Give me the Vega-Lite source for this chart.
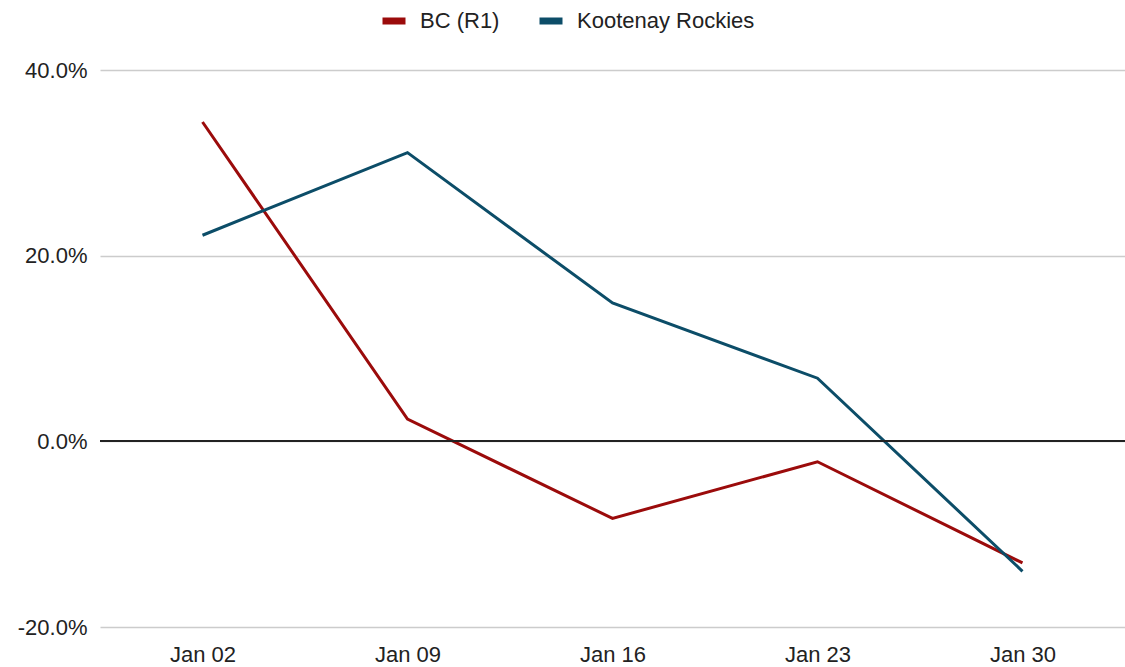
{
  "$schema": "https://vega.github.io/schema/vega-lite/v6.json",
  "width": 1025,
  "height": 557,
  "autosize": {"type": "none"},
  "padding": {"left": 100, "top": 70, "right": 0, "bottom": 40},
  "background": "white",
  "config": {
    "view": {"stroke": null},
    "font": "Liberation Sans",
    "axis": {
      "title": null,
      "domain": false,
      "ticks": false,
      "labelFontSize": 22,
      "labelColor": "#222222"
    },
    "axisX": {"grid": false, "labelPadding": 17, "labelAngle": 0},
    "axisY": {"grid": true, "gridColor": "#cccccc", "gridWidth": 1.5, "labelPadding": 13}
  },
  "data": {
    "values": [
      {"week": "Jan 02", "series": "BC (R1)", "value": 0.344},
      {"week": "Jan 09", "series": "BC (R1)", "value": 0.024},
      {"week": "Jan 16", "series": "BC (R1)", "value": -0.083},
      {"week": "Jan 23", "series": "BC (R1)", "value": -0.022},
      {"week": "Jan 30", "series": "BC (R1)", "value": -0.131},
      {"week": "Jan 02", "series": "Kootenay Rockies", "value": 0.222},
      {"week": "Jan 09", "series": "Kootenay Rockies", "value": 0.311},
      {"week": "Jan 16", "series": "Kootenay Rockies", "value": 0.149},
      {"week": "Jan 23", "series": "Kootenay Rockies", "value": 0.068},
      {"week": "Jan 30", "series": "Kootenay Rockies", "value": -0.140}
    ]
  },
  "layer": [
    {
      "mark": {"type": "line", "strokeWidth": 3},
      "encoding": {
        "x": {
          "field": "week",
          "type": "ordinal",
          "scale": {"type": "point", "padding": 0.5},
          "axis": {"title": null}
        },
        "y": {
          "field": "value",
          "type": "quantitative",
          "scale": {"domain": [-0.2, 0.4], "nice": false},
          "axis": {
            "title": null,
            "values": [-0.2, 0, 0.2, 0.4],
            "labelExpr": "replace(format(datum.value, '.1%'), '−', '-')"
          }
        },
        "color": {
          "field": "series",
          "type": "nominal",
          "scale": {"domain": ["BC (R1)", "Kootenay Rockies"], "range": ["#9b0b0b", "#0c4d68"]},
          "legend": {
            "title": null,
            "orient": "none",
            "direction": "horizontal",
            "legendX": 279,
            "legendY": -64,
            "symbolType": "stroke",
            "symbolSize": 529,
            "symbolStrokeWidth": 7,
            "labelFontSize": 22,
            "labelColor": "#222222",
            "labelLimit": 400,
            "labelOffset": 11,
            "columnPadding": 25
          }
        }
      }
    },
    {
      "mark": {"type": "rule", "color": "#222222", "strokeWidth": 1.5},
      "encoding": {"y": {"datum": 0, "type": "quantitative"}}
    }
  ]
}
